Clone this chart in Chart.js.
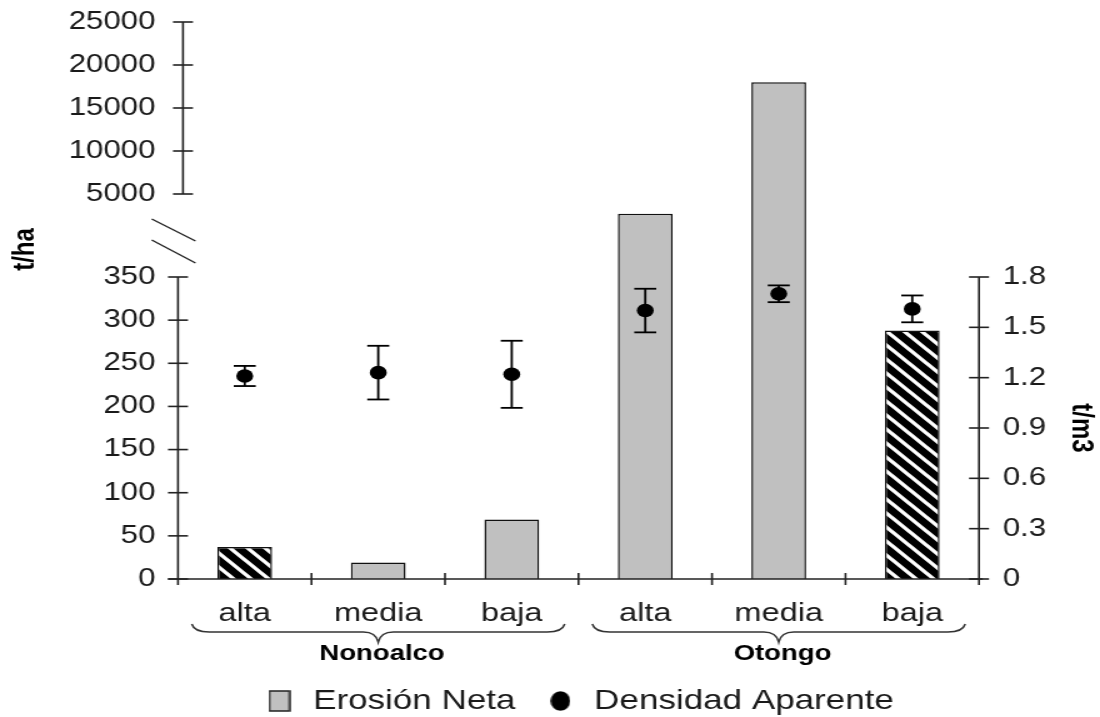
<!DOCTYPE html>
<html>
<head>
<meta charset="utf-8">
<script src="https://cdn.jsdelivr.net/npm/chart.js@4/dist/chart.umd.min.js"></script>
<style>
  html, body { margin: 0; padding: 0; background: #fff; overflow: hidden; width: 1100px; height: 717px; }
  /* the source picture is an 880px wide chart stretched to 1100px */
  #wrap { width: 880px; height: 717px; transform: scale(1.25, 1); transform-origin: 0 0; }
</style>
</head>
<body>
<div id="wrap"><canvas id="c"></canvas></div>
<script>
// data
var categories = ['alta', 'media', 'baja', 'alta', 'media', 'baja'];
var groups = ['Nonoalco', 'Otongo'];
var erosion = [37, 19, 69, 3900, 18000, 288];          // t/ha
var density = [1.21, 1.23, 1.22, 1.60, 1.70, 1.61];    // t/m3
var densityErr = [0.06, 0.16, 0.20, 0.13, 0.05, 0.08];
var hatched = [true, false, false, false, false, true];
var leftTicks = [0, 50, 100, 150, 200, 250, 300, 350, 5000, 10000, 15000, 20000, 25000];
var rightTicks = [0, 0.3, 0.6, 0.9, 1.2, 1.5, 1.8];

// broken axis: 0-350 / gap / 5000-25000, relative heights of the three pieces
var lowMax = 350, highMin = 5000, highMax = 25000;
var segLow = 302, segGap = 83, segHigh = 172;
var segTotal = segLow + segGap + segHigh;

var FONT = '"Liberation Sans", Arial, sans-serif';
var TXT = '#1a1a1a';

function toVirtual(v) {
  if (v <= lowMax) return v / lowMax * segLow;
  if (v <= highMin) return segLow + (v - lowMax) / (highMin - lowMax) * segGap;
  return segLow + segGap + (v - highMin) / (highMax - highMin) * segHigh;
}
function fromVirtual(d) {
  if (d <= segLow) return d / segLow * lowMax;
  if (d <= segLow + segGap) return lowMax + (d - segLow) / segGap * (highMin - lowMax);
  return highMin + (d - segLow - segGap) / segHigh * (highMax - highMin);
}

class BrokenScale extends Chart.LinearScale {
  buildTicks() {
    return leftTicks.map(function (v) { return {value: v}; });
  }
  getPixelForValue(value) {
    return this.getPixelForDecimal(toVirtual(value) / segTotal);
  }
  getValueForPixel(pixel) {
    return fromVirtual(this.getDecimalForPixel(pixel) * segTotal);
  }
}
BrokenScale.id = 'broken';
Chart.register(BrokenScale);

// hatch pattern (black with white "\" stripes)
function makeCanvas(w, h, draw) {
  var c = document.createElement('canvas');
  c.width = w; c.height = h;
  draw(c.getContext('2d'));
  return c;
}
var P = 14;
var tile = makeCanvas(P, P, function (g) {
  g.fillStyle = '#000';
  g.fillRect(0, 0, P, P);
  g.strokeStyle = '#fff';
  g.lineWidth = 3.3;
  g.beginPath();
  g.moveTo(-2, -2); g.lineTo(P + 2, P + 2);
  g.moveTo(-2, P - 2); g.lineTo(2, P + 2);
  g.moveTo(P - 2, -2); g.lineTo(P + 2, 2);
  g.stroke();
});
var hatch = document.createElement('canvas').getContext('2d').createPattern(tile, 'repeat');

// legend symbols
var boxImg = makeCanvas(18, 22, function (g) {
  g.fillStyle = '#c0c0c0';
  g.fillRect(1, 1, 16, 20);
  g.strokeStyle = '#222';
  g.lineWidth = 1.5;
  g.strokeRect(1, 1, 16, 20);
});
var dotImg = makeCanvas(16, 20, function (g) {
  g.fillStyle = '#000';
  g.beginPath();
  g.ellipse(8, 10, 7.8, 9.8, 0, 0, Math.PI * 2);
  g.fill();
});

// no extra room above/below the y axes for their labels
function fitY(width) {
  return function (s) {
    s.width = width;
    s.paddingTop = 0;
    s.paddingBottom = 0;
  };
}

// axes lines, break marks, error bars, braces and titles
var decor = {
  id: 'decor',
  afterDatasetsDraw: function (chart) {
    var ctx = chart.ctx, a = chart.chartArea;
    var x = chart.scales.x, y = chart.scales.y, y1 = chart.scales.y1;
    var L = a.left, R = a.right, B = y.getPixelForValue(0);
    var U = L + 4;
    function line(x0, y0, x2, y2) {
      ctx.beginPath(); ctx.moveTo(x0, y0); ctx.lineTo(x2, y2); ctx.stroke();
    }
    ctx.save();
    ctx.strokeStyle = '#222';
    ctx.lineWidth = 1.6;

    // x axis
    line(L - 8, B, R + 3, B);
    for (var i = 1; i < categories.length; i++) {
      var px = (x.getPixelForValue(i - 1) + x.getPixelForValue(i)) / 2;
      line(px, B - 6, px, B + 6);
    }
    // left axis, two pieces
    line(L, y.getPixelForValue(lowMax), L, B + 6);
    line(U, y.getPixelForValue(highMin), U, y.getPixelForValue(highMax));
    leftTicks.forEach(function (v) {
      var ax = v <= lowMax ? L : U, py = y.getPixelForValue(v);
      line(ax - 8, py, ax + 8, py);
    });
    // break marks
    var gm = (y.getPixelForValue(highMin) + y.getPixelForValue(lowMax)) / 2;
    ctx.lineWidth = 1.4;
    line(L - 21, gm - 16.5, L + 14, gm + 5.5);
    line(L - 21, gm + 4.5, L + 14, gm + 27.5);
    ctx.lineWidth = 1.6;
    // right axis
    line(R, y1.getPixelForValue(1.8), R, B + 6);
    rightTicks.forEach(function (v) {
      var py = y1.getPixelForValue(v);
      line(R - 8, py, R + 8, py);
    });

    // error bars
    ctx.strokeStyle = '#000';
    ctx.lineWidth = 1.8;
    chart.getDatasetMeta(1).data.forEach(function (pt, k) {
      var t = y1.getPixelForValue(density[k] + densityErr[k]);
      var b = y1.getPixelForValue(density[k] - densityErr[k]);
      line(pt.x, t, pt.x, b);
      line(pt.x - 8.8, t, pt.x + 8.8, t);
      line(pt.x - 8.8, b, pt.x + 8.8, b);
    });

    // group braces and names
    var cw = x.getPixelForValue(1) - x.getPixelForValue(0);
    ctx.strokeStyle = '#333';
    ctx.lineWidth = 1.5;
    ctx.fillStyle = '#000';
    ctx.font = 'bold 22px ' + FONT;
    ctx.textAlign = 'center';
    ctx.textBaseline = 'middle';
    groups.forEach(function (name, g) {
      var x0 = x.getPixelForValue(g * 3) - cw / 2 + 11;
      var x2 = x.getPixelForValue(g * 3 + 2) + cw / 2 - 11;
      var cx = (x0 + x2) / 2;
      var yl = B + 53, ye = B + 45, yt = B + 63;
      ctx.beginPath();
      ctx.moveTo(x0, ye);
      ctx.quadraticCurveTo(x0 + 2, yl, x0 + 14, yl);
      ctx.lineTo(cx - 12, yl);
      ctx.quadraticCurveTo(cx - 2, yl, cx, yt);
      ctx.quadraticCurveTo(cx + 2, yl, cx + 12, yl);
      ctx.lineTo(x2 - 14, yl);
      ctx.quadraticCurveTo(x2 - 2, yl, x2, ye);
      ctx.stroke();
      ctx.fillText(name, cx + 3, B + 75);
    });

    // axis titles
    ctx.font = 'bold 24px ' + FONT;
    ctx.save();
    ctx.translate(20.5, gm + 14);
    ctx.rotate(-Math.PI / 2);
    ctx.fillText('t/ha', 0, 0);
    ctx.restore();
    ctx.save();
    ctx.translate(R + 81.6, (y1.getPixelForValue(0) + y1.getPixelForValue(1.8)) / 2);
    ctx.rotate(Math.PI / 2);
    ctx.fillText('t/m3', 0, 0);
    ctx.restore();

    ctx.restore();
  }
};

new Chart(document.getElementById('c'), {
  data: {
    labels: categories,
    datasets: [{
      type: 'bar',
      label: 'Erosión Neta',
      data: erosion,
      yAxisID: 'y',
      backgroundColor: erosion.map(function (v, i) { return hatched[i] ? hatch : '#c0c0c0'; }),
      borderColor: '#111',
      borderWidth: 1.5,
      barPercentage: 0.41,
      categoryPercentage: 1,
      order: 2
    }, {
      type: 'line',
      label: 'Densidad Aparente',
      data: density,
      yAxisID: 'y1',
      showLine: false,
      pointRadius: 6.8,
      pointBackgroundColor: '#000',
      pointBorderWidth: 0,
      order: 1
    }]
  },
  options: {
    responsive: true,
    maintainAspectRatio: false,
    animation: false,
    events: [],
    layout: { padding: { top: 22, left: 0, right: 0, bottom: -8 } },
    scales: {
      x: {
        grid: { display: false, drawTicks: false },
        border: { display: false },
        ticks: { color: TXT, font: { family: FONT, size: 26 }, padding: 19, autoSkip: false, maxRotation: 0 },
        afterFit: function (s) { s.height = 85; }
      },
      y: {
        type: 'broken',
        position: 'left',
        min: 0,
        max: highMax,
        grid: { display: false, drawTicks: false },
        border: { display: false },
        ticks: {
          color: TXT, font: { family: FONT, size: 25 }, padding: 18, autoSkip: false,
          callback: function (v) { return String(v); }
        },
        afterFit: fitY(142.4)
      },
      y1: {
        type: 'linear',
        position: 'right',
        min: 0,
        max: 1.8 * segTotal / segLow,
        grid: { display: false, drawTicks: false },
        border: { display: false },
        afterBuildTicks: function (s) { s.ticks = rightTicks.map(function (v) { return {value: v}; }); },
        ticks: {
          color: TXT, font: { family: FONT, size: 25 }, padding: 19, autoSkip: false,
          callback: function (v) { return String(v); }
        },
        afterFit: fitY(96.8)
      }
    },
    plugins: {
      tooltip: { enabled: false },
      legend: {
        position: 'bottom',
        fullSize: false,
        labels: {
          usePointStyle: true,
          pointStyleWidth: 26,
          padding: 23,
          color: TXT,
          font: { family: FONT, size: 28 },
          generateLabels: function () {
            return [
              { text: 'Erosión Neta', pointStyle: boxImg, datasetIndex: 0, hidden: false, lineWidth: 0, fontColor: TXT },
              { text: 'Densidad Aparente', pointStyle: dotImg, datasetIndex: 1, hidden: false, lineWidth: 0, fontColor: TXT }
            ];
          }
        }
      }
    }
  },
  plugins: [decor]
});
</script>
</body>
</html>
